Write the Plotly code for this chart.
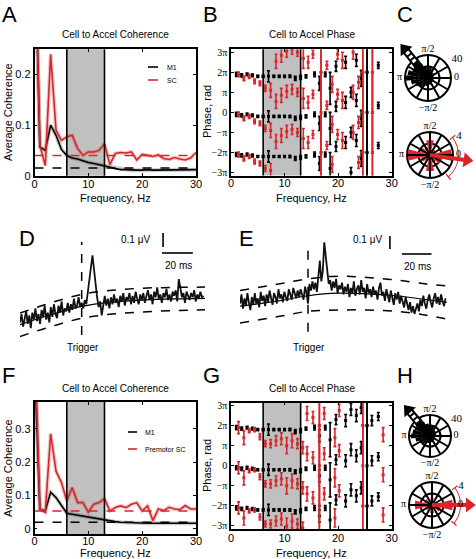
import plotly.graph_objects as go

W, H = 476, 559
def px(x): return x / W
def py(y): return 1 - y / H

RED = '#d8262a'
SANS = 'Liberation Sans'
SERIF = 'Liberation Serif'

# ---------------- data ----------------
freq = list(range(0, 31))
a_m1 = [0.5, 0.057, 0.05, 0.10, 0.08, 0.052, 0.04, 0.035, 0.033, 0.029, 0.026, 0.024, 0.022, 0.02, 0.017,
        0.014, 0.012, 0.012, 0.011, 0.011, 0.011, 0.012, 0.011, 0.011, 0.012, 0.011, 0.011, 0.012, 0.011, 0.011, 0.012]
a_sc = [0.5, 0.06, 0.02, 0.24, 0.09, 0.07, 0.077, 0.08, 0.054, 0.04, 0.047, 0.047, 0.05, 0.063, 0.022,
        0.044, 0.046, 0.045, 0.047, 0.031, 0.042, 0.04, 0.038, 0.041, 0.034, 0.032, 0.036, 0.033, 0.031, 0.035, 0.046]
a_sig_m1 = 0.015
a_sig_sc = 0.040

f_m1 = [0.5, 0.059, 0.054, 0.11, 0.094, 0.069, 0.047, 0.044, 0.041, 0.04, 0.035, 0.033, 0.03, 0.027, 0.025,
        0.022, 0.02, 0.019, 0.018, 0.018, 0.018, 0.017, 0.017, 0.018, 0.017, 0.017, 0.017, 0.018, 0.017, 0.017, 0.017]
f_sc = [0.6, 0.06, 0.05, 0.285, 0.173, 0.139, 0.084, 0.124, 0.079, 0.079, 0.05, 0.074, 0.079, 0.091, 0.054,
        0.064, 0.069, 0.064, 0.074, 0.079, 0.054, 0.069, 0.025, 0.06, 0.055, 0.065, 0.06, 0.058, 0.07, 0.06, 0.06]
f_sig_m1 = 0.02
f_sig_sc = 0.054

band = [6, 13]

# phase panels, values in units of pi
b_m1_f = [1, 2, 3, 4, 5, 6, 7, 8, 9, 10, 11, 12, 13, 14, 15.6, 16.5, 17.6, 18.5, 19.6, 21.4, 22.4, 23.4, 24.3, 25.4, 27.5]
b_m1_ph = [-0.1, -0.15, -0.1, -0.15, -0.2, -0.2, -0.2, -0.2, -0.2, -0.2, -0.2, -0.3, -0.25, -0.2,
           -0.1, -0.55, -0.1, -0.8, 0.3, 0.5, -1.0, 0.6, -0.3, 0.0, 0.35]
b_m1_err = [0.1, 0.08, 0.07, 0.07, 0.05, 0.05, 0.28, 0.05, 0.05, 0.05, 0.06, 0.1, 0.1, 0.08,
            0.12, 0.35, 0.12, 0.8, 0.25, 0.3, 0.25, 0.3, 0.4, 4.0, 0.15]
b_sc_f = [1.4, 2.4, 3.4, 4.4, 5.4, 6.4, 7.4, 8.4, 9.4, 10.4, 11.4, 12.4, 13.5, 14.4,
          15.3, 16.8, 17.9, 18.9, 19.9, 20.8, 22.8, 23.8, 24.6, 26.4]
b_sc_ph = [-0.1, -0.3, -0.2, -0.45, -0.55, -0.8, -0.9, 0.55, 0.85, 1.05, 1.15, 1.0, 0.7, 0.5,
           0.9, 0.0, 0.35, -0.6, 0.9, 0.6, 1.0, -0.5, 0.0, 0.0]
b_sc_err = [0.12, 0.12, 0.1, 0.12, 0.12, 0.15, 0.35, 0.35, 0.35, 0.3, 0.25, 0.2, 0.5, 0.3,
            0.2, 4.0, 0.2, 0.4, 0.25, 0.4, 0.35, 0.3, 4.0, 4.0]

g_m1_f = [1, 2, 3, 4, 5, 6, 7, 8, 9, 10, 11, 12, 13, 14, 15.6, 16.5, 17.6, 18.5, 19.6, 21.4, 22.4, 23.4, 24.3, 25.4, 26.3, 27.5]
g_m1_ph = [-0.1, -0.15, -0.1, -0.15, -0.2, -0.2, -0.2, -0.2, -0.2, -0.2, -0.2, -0.3, -0.25, -0.15,
           -0.1, -0.5, -0.1, -0.7, 0.3, 0.25, 0.8, 0.5, 0.9, 0.0, 0.25, 0.45]
g_m1_err = [0.1, 0.08, 0.07, 0.07, 0.05, 0.05, 0.28, 0.05, 0.05, 0.05, 0.06, 0.1, 0.1, 0.08,
            0.12, 0.3, 0.12, 0.85, 0.25, 0.3, 0.3, 0.3, 0.3, 4.0, 0.25, 0.2]
g_sc_f = [1.4, 2.4, 3.4, 4.4, 5.4, 6.4, 7.4, 8.4, 9.4, 10.4, 11.4, 12.4, 13.4,
          14.2, 15.3, 16.5, 17.4, 19.4, 20.2, 24.6, 28.4]
g_sc_ph = [-0.1, -0.6, -0.25, -0.2, -0.55, -0.9, -0.9, -0.75, -0.65, -1.0, -0.75, -0.9, -1.1,
           0.6, 0.4, 0.0, 0.6, -0.6, 0.75, 0.0, -0.45]
g_sc_err = [0.3, 0.35, 0.1, 0.1, 0.15, 0.15, 0.2, 0.25, 0.3, 0.4, 0.35, 0.25, 0.3,
            0.35, 0.3, 4.0, 0.3, 0.45, 0.3, 4.0, 0.35]
phase_copies = [-2, 0, 2]

# spike-triggered averages (microvolts)
d_time = list(range(-40, 80))
d_vals = [-0.16, -0.10, -0.19, -0.12, -0.08, -0.17, -0.11, -0.20, -0.09, -0.14,
          -0.06, -0.15, -0.10, -0.17, -0.07, -0.12, -0.04, -0.14, -0.09, -0.16,
          -0.05, -0.12, -0.03, -0.10, -0.13, -0.04, -0.09, -0.01, -0.11, -0.06,
          -0.08, -0.02, -0.09, -0.03, -0.07, 0.01, -0.06, -0.04, 0.02, -0.05,
          -0.02, -0.06, 0.0, -0.03, 0.06, 0.14, 0.25, 0.32, 0.22, 0.10,
          0.02, -0.05, -0.01, -0.11, -0.02, 0.03, -0.04, 0.01, -0.06, 0.02,
          -0.03, 0.04, -0.02, 0.01, -0.05, 0.03, -0.01, 0.05, -0.04, 0.02,
          0.0, 0.05, -0.03, 0.03, -0.02, 0.06, 0.01, -0.03, 0.04, 0.0,
          0.05, -0.02, 0.03, 0.07, 0.0, 0.04, -0.03, 0.06, 0.02, 0.09,
          0.01, 0.04, -0.02, 0.05, 0.02, 0.08, 0.0, 0.04, -0.01, 0.06,
          0.03, 0.07, -0.01, 0.15, 0.09, 0.02, 0.05, -0.02, 0.06, 0.03,
          0.00, 0.05, 0.02, 0.07, -0.01, 0.04, 0.01, 0.06, 0.02, 0.03]
d_band_t = [-40, -20, 0, 20, 40, 60, 80]
d_upper = [-0.093, -0.02, 0.04, 0.07, 0.085, 0.09, 0.093]
d_lower = [-0.26, -0.19, -0.13, -0.10, -0.085, -0.075, -0.07]
d_mean = [-0.175, -0.105, -0.045, -0.015, 0.0, 0.008, 0.012]

e_time = list(range(-46, 94))
e_vals = [-0.05, 0.02, -0.09, -0.01, -0.07, 0.03, -0.04, -0.10, 0.0, -0.06,
          0.03, -0.05, -0.01, -0.08, 0.04, -0.03, 0.01, -0.07, 0.02, -0.04,
          0.05, -0.02, -0.06, 0.03, 0.0, -0.05, 0.06, -0.01, 0.02, -0.04,
          0.04, 0.0, -0.03, 0.06, 0.01, -0.02, 0.07, 0.02, -0.01, 0.05,
          0.0, 0.06, 0.02, -0.02, 0.08, 0.03, -0.05, 0.10, 0.05, 0.12,
          0.06, 0.11, 0.04, 0.15, 0.28, 0.12, 0.20, 0.42, 0.30, 0.16,
          0.10, 0.13, 0.05, 0.12, 0.07, 0.14, 0.03, 0.09, 0.06, 0.11,
          0.02, 0.08, 0.04, 0.10, 0.0, 0.07, 0.03, 0.12, 0.01, 0.06,
          0.09, 0.02, 0.13, 0.04, 0.07, -0.01, 0.10, 0.03, 0.06, 0.0,
          0.08, 0.02, 0.05, -0.02, 0.07, 0.11, 0.01, 0.04, -0.03, 0.06,
          0.02, -0.04, 0.05, 0.0, -0.06, 0.03, -0.02, 0.04, -0.05, 0.01,
          -0.03, -0.08, 0.0, -0.06, -0.10, -0.04, -0.12, -0.07, -0.13, -0.09,
          -0.05, -0.11, -0.02, -0.07, 0.01, -0.05, -0.09, -0.02, 0.02, -0.04,
          -0.08, -0.01, 0.03, -0.05, 0.0, -0.06, 0.02, -0.03, -0.07, -0.01]
e_band_t = [-46, -20, 0, 20, 40, 60, 80, 94]
e_upper = [0.05, 0.10, 0.14, 0.16, 0.15, 0.13, 0.10, 0.085]
e_lower = [-0.2, -0.15, -0.11, -0.10, -0.10, -0.11, -0.14, -0.17]
e_mean = [-0.07, -0.03, 0.01, 0.03, 0.025, 0.01, -0.02, -0.04]

# rose histograms
rose_m1_theta = list(range(0, 360, 15))
c_m1_counts = [12, 10, 14, 12, 16, 18, 20, 22, 28, 32, 30, 36, 38, 30, 24, 20, 18, 14, 16, 12, 14, 10, 12, 10]
h_m1_counts = [10, 12, 12, 14, 16, 20, 22, 24, 30, 34, 32, 34, 36, 28, 22, 18, 16, 14, 14, 12, 12, 10, 12, 10]
rose_sc_theta = list(range(0, 360, 30))
c_sc_counts = [3.8, 1.2, 1.0, 2.6, 1.4, 1.8, 3.9, 1.6, 1.2, 2.8, 1.4, 2.2]
h_sc_counts = [3.6, 0.8, 0.6, 1.2, 0.6, 1.4, 3.0, 1.2, 0.6, 1.4, 0.8, 1.6]
c_m1_mean_dir = 129
h_m1_mean_dir = 130
c_sc_mean_dir = -8
h_sc_mean_dir = 0
c_sc_ci = [-50, 38]
h_sc_ci = [-40, 37]

# ---------------- figure ----------------
fig = go.Figure()

def coh_panel(xa, ya, m1, sc, sig_m1, sig_sc):
    for vals, col, halo in [(m1, 'black', 'rgba(0,0,0,0.2)'), (sc, RED, 'rgba(216,38,42,0.25)')]:
        fig.add_trace(go.Scatter(x=freq, y=vals, xaxis=xa, yaxis=ya, mode='lines',
                                 line=dict(color=halo, width=4), hoverinfo='skip'))
        fig.add_trace(go.Scatter(x=freq, y=vals, xaxis=xa, yaxis=ya, mode='lines',
                                 line=dict(color=col, width=1.6)))
    fig.add_trace(go.Scatter(x=[freq[0], freq[-1]], y=[sig_m1, sig_m1], xaxis=xa, yaxis=ya, mode='lines',
                             line=dict(color='black', width=1.5, dash='dash')))
    fig.add_trace(go.Scatter(x=[freq[0], freq[-1]], y=[sig_sc, sig_sc], xaxis=xa, yaxis=ya, mode='lines',
                             line=dict(color=RED, width=1.5, dash='dash')))

coh_panel('x', 'y', a_m1, a_sc, a_sig_m1, a_sig_sc)
coh_panel('x5', 'y5', f_m1, f_sc, f_sig_m1, f_sig_sc)

def phase_trace(xa, ya, f, ph, err, col):
    xs, ys, es = [], [], []
    for off in phase_copies:
        xs += f
        ys += [p + off for p in ph]
        es += err
    fig.add_trace(go.Scatter(x=xs, y=ys, xaxis=xa, yaxis=ya, mode='markers',
                             marker=dict(color=col, size=3, symbol='square'),
                             error_y=dict(type='data', array=es, color=col, thickness=1.6, width=1.5)))

phase_trace('x2', 'y2', b_m1_f, b_m1_ph, b_m1_err, 'black')
phase_trace('x2', 'y2', b_sc_f, b_sc_ph, b_sc_err, RED)
phase_trace('x6', 'y6', g_m1_f, g_m1_ph, g_m1_err, 'black')
phase_trace('x6', 'y6', g_sc_f, g_sc_ph, g_sc_err, RED)

def sta_panel(xa, ya, t, v, bt, up, lo, mn):
    fig.add_trace(go.Scatter(x=bt, y=mn, xaxis=xa, yaxis=ya, mode='lines', line=dict(color='black', width=1.2, shape='spline')))
    fig.add_trace(go.Scatter(x=t, y=v, xaxis=xa, yaxis=ya, mode='lines', line=dict(color='#111', width=1.8)))
    for b in (up, lo):
        fig.add_trace(go.Scatter(x=bt, y=b, xaxis=xa, yaxis=ya, mode='lines',
                                 line=dict(color='black', width=1.5, dash='dash', shape='spline')))

sta_panel('x3', 'y3', d_time, d_vals, d_band_t, d_upper, d_lower, d_mean)
sta_panel('x4', 'y4', e_time, e_vals, e_band_t, e_upper, e_lower, e_mean)

# ---- rose plots ----
def rose(sub, theta, counts, width, col, rc, mean_dir, solid, ci=None, rlabel=''):
    spokes_r, spokes_t = [], []
    for a in range(0, 360, 30):
        spokes_r += [0, rc, None]
        spokes_t += [a, a, None]
    fig.add_trace(go.Scatterpolar(r=spokes_r, theta=spokes_t, subplot=sub, mode='lines',
                                  line=dict(color='black', width=2)))
    fig.add_trace(go.Barpolar(r=counts, theta=theta, width=[width] * len(theta), subplot=sub,
                              marker=dict(color=col, line=dict(width=0))))
    if ci is not None:
        mid = (ci[0] + ci[1]) / 2
        fig.add_trace(go.Barpolar(r=[rc * 0.04], base=[rc * 1.22], theta=[mid], width=[ci[1] - ci[0]],
                                  subplot=sub, marker=dict(color=col, line=dict(width=0))))
        fig.add_trace(go.Barpolar(r=[rc * 0.3, rc * 0.3], base=[rc * 1.09, rc * 1.09], theta=ci, width=[2.5, 2.5],
                                  subplot=sub, marker=dict(color=col, line=dict(width=0))))
    acol = 'black' if not solid else col
    tipr = rc * 1.62
    if solid:
        fig.add_trace(go.Scatterpolar(r=[0, tipr], theta=[mean_dir, mean_dir], subplot=sub, mode='lines',
                                      line=dict(color=acol, width=4)))
    else:
        fig.add_trace(go.Scatterpolar(r=[0, tipr], theta=[mean_dir, mean_dir], subplot=sub, mode='lines',
                                      line=dict(color='black', width=8)))
        fig.add_trace(go.Scatterpolar(r=[rc * 0.9, tipr - rc * 0.02], theta=[mean_dir, mean_dir], subplot=sub, mode='lines',
                                      line=dict(color='white', width=4, dash='3px,2px')))
    fig.add_trace(go.Scatterpolar(r=[tipr], theta=[mean_dir], subplot=sub, mode='markers', cliponaxis=False,
                                  marker=dict(symbol='triangle-up', size=13, color=acol, angle=90 - mean_dir)))
    lab_r = rc * 1.24
    fig.add_trace(go.Scatterpolar(r=[lab_r, lab_r, lab_r, lab_r * 1.06], theta=[90, 0, 180, 270], subplot=sub,
                                  mode='text', text=['π/2', '0', 'π', '−π/2'], cliponaxis=False,
                                  textfont=dict(family=SERIF, size=10, color='black')))
    fig.add_trace(go.Scatterpolar(r=[rc * 1.5], theta=[33], subplot=sub, mode='text', text=[rlabel],
                                  cliponaxis=False, textfont=dict(family=SERIF, size=11, color='black')))

rose('polar', rose_m1_theta, c_m1_counts, 15, 'black', 40, c_m1_mean_dir, False, rlabel='40')
rose('polar2', rose_sc_theta, c_sc_counts, 30, RED, 4, c_sc_mean_dir, True, ci=c_sc_ci, rlabel='4')
rose('polar3', rose_m1_theta, h_m1_counts, 15, 'black', 40, h_m1_mean_dir, False, rlabel='40')
rose('polar4', rose_sc_theta, h_sc_counts, 30, RED, 4, h_sc_mean_dir, True, ci=h_sc_ci, rlabel='4')

def polar_layout(cx, cy, rpx, rc, rmax):
    half = rpx * rmax / rc
    return dict(domain=dict(x=[max(0, px(cx - half)), min(1, px(cx + half))], y=[py(cy + half), py(cy - half)]),
                bgcolor='rgba(0,0,0,0)',
                radialaxis=dict(range=[0, rmax], tickvals=[rc / 2, rc], showticklabels=False, showline=False,
                                ticks='', gridcolor='black', gridwidth=2, layer='below traces'),
                angularaxis=dict(showgrid=False, showline=False, showticklabels=False, ticks='', layer='below traces'))

# ---- axes ----
def cart(domain_x, domain_y, rng, tickvals, ticktext=None, font=SANS, size=11, anchor=None, standoff=0):
    return dict(domain=domain_x if domain_y is None else domain_y, range=rng, tickvals=tickvals, ticktext=ticktext,
                showline=True, linecolor='black', linewidth=1.5, mirror='ticks', ticks='inside', ticklen=3,
                tickcolor='black', tickwidth=1, showgrid=False, zeroline=False, anchor=anchor,
                ticklabelstandoff=standoff,
                tickfont=dict(family=font, size=size, color='black'), fixedrange=True)

phase_ticks = [-3, -2, -1, 0, 1, 2, 3]
phase_text = ['−3π', '−2π', '−π', '0', 'π', '2π', '3π']

hidden = dict(visible=False, fixedrange=True)

layout = dict(
    width=W, height=H, margin=dict(l=0, r=0, t=0, b=0), template='none', showlegend=False,
    paper_bgcolor='white', plot_bgcolor='rgba(0,0,0,0)',
    xaxis=cart([px(34.5), px(196)], None, [0, 30], [0, 10, 20, 30], anchor='y', standoff=-3),
    yaxis=cart(None, [py(175.7), py(49.3)], [0, 0.25], [0, 0.1, 0.2], ['0', '0.1', '0.2'], anchor='x'),
    xaxis2=cart([px(231), px(391.7)], None, [0, 30], [0, 10, 20, 30], anchor='y2', standoff=-3),
    yaxis2=cart(None, [py(175.5), py(49.3)], [-3.15, 3.15], phase_ticks, phase_text, font=SERIF, size=10, anchor='x2'),
    xaxis3=dict(domain=[px(20), px(205)], range=[-40, 80], anchor='y3', **hidden),
    yaxis3=dict(domain=[py(345), py(225)], range=[-0.321, 0.536], anchor='x3', **hidden),
    xaxis4=dict(domain=[px(240), px(447)], range=[-46, 94], anchor='y4', **hidden),
    yaxis4=dict(domain=[py(345), py(225)], range=[-0.369, 0.554], anchor='x4', **hidden),
    xaxis5=cart([px(34.5), px(196)], None, [0, 30], [0, 10, 20, 30], anchor='y5', standoff=-4),
    yaxis5=cart(None, [py(534), py(402)], [-0.015, 0.38], [0, 0.1, 0.2, 0.3], ['0', '0.1', '0.2', '0.3'], anchor='x5'),
    xaxis6=cart([px(231), px(391.7)], None, [0, 30], [0, 10, 20, 30], anchor='y6', standoff=-2),
    yaxis6=cart(None, [py(529), py(402.5)], [-3.15, 3.15], phase_ticks, phase_text, font=SERIF, size=10, anchor='x6'),
    polar=polar_layout(428, 78, 23, 40, 72),
    polar2=polar_layout(430, 155, 23, 4, 7.2),
    polar3=polar_layout(430, 436, 21, 40, 72),
    polar4=polar_layout(432, 505, 23, 4, 7.2),
)
fig.update_layout(**layout)

shapes = []
for xa, ya in [('x', 'y'), ('x2', 'y2'), ('x5', 'y5'), ('x6', 'y6')]:
    shapes.append(dict(type='rect', xref=xa, yref=ya + ' domain', x0=band[0], x1=band[1], y0=0, y1=1,
                       fillcolor='#c0c0c0', line=dict(width=0), layer='below'))
    for b in band:
        shapes.append(dict(type='line', xref=xa, yref=ya + ' domain', x0=b, x1=b, y0=0, y1=1,
                           line=dict(color='black', width=1.6), layer='above'))

# trigger lines and scale bars
shapes += [
    dict(type='line', xref='x3', yref='y3', x0=0, x1=0, y0=-0.25, y1=0.415, line=dict(color='black', width=1.5, dash='dash')),
    dict(type='line', xref='x4', yref='y4', x0=0, x1=0, y0=-0.267, y1=0.426, line=dict(color='black', width=1.5, dash='dash')),
    dict(type='line', xref='x3', yref='y3', x0=52.8, x1=52.8, y0=0.379, y1=0.479, line=dict(color='black', width=1.6)),
    dict(type='line', xref='x3', yref='y3', x0=52.1, x1=72.1, y0=0.336, y1=0.336, line=dict(color='black', width=1.6)),
    dict(type='line', xref='x4', yref='y4', x0=55.4, x1=55.4, y0=0.369, y1=0.469, line=dict(color='black', width=1.6)),
    dict(type='line', xref='x4', yref='y4', x0=63.5, x1=83.5, y0=0.331, y1=0.331, line=dict(color='black', width=1.6)),
]

# legends
def leg_line(x0, x1, y, col):
    return dict(type='line', xref='paper', yref='paper', x0=px(x0), x1=px(x1), y0=py(y), y1=py(y),
                line=dict(color=col, width=1.6))
shapes += [leg_line(148, 158, 67, 'black'), leg_line(148, 158, 80, RED),
           leg_line(128, 137, 432, 'black'), leg_line(128, 137, 449, RED)]
fig.update_layout(shapes=shapes)

ann = []
def text(x, y, s, size=11, xanchor='center', font=SANS, angle=0):
    ann.append(dict(x=px(x), y=py(y), xref='paper', yref='paper', text=s, showarrow=False, textangle=angle,
                    xanchor=xanchor, yanchor='middle', font=dict(family=font, size=size, color='black')))

for lab, x, y in [('A', 9, 15), ('B', 210, 15), ('C', 405, 15), ('D', 27, 238), ('E', 246, 238),
                  ('F', 8, 375), ('G', 211, 375), ('H', 405, 375)]:
    text(x, y, lab, size=22)

text(115, 35, 'Cell to Accel Coherence', size=10)
text(312, 35, 'Cell to Accel Phase', size=10)
text(115, 388, 'Cell to Accel Coherence', size=10)
text(312, 388, 'Cell to Accel Phase', size=10)
for y in (198, 553):
    text(115, y, 'Frequency, Hz', size=11)
    text(311, y, 'Frequency, Hz', size=11)
text(8, 112, 'Average Coherence', size=11, angle=-90)
text(8, 468, 'Average Coherence', size=11, angle=-90)
text(207, 112, 'Phase, rad', size=11, angle=-90)
text(207, 466, 'Phase, rad', size=11, angle=-90)
text(165, 67, 'M1', size=7, xanchor='left')
text(165, 80, 'SC', size=7, xanchor='left')
text(143, 432, 'M1', size=7, xanchor='left')
text(143, 449, 'Premotor SC', size=7, xanchor='left')
text(152, 240, '0.1 μV', size=10, xanchor='right')
text(178, 265, '20 ms', size=10)
text(384, 239, '0.1 μV', size=10, xanchor='right')
text(417, 266, '20 ms', size=10)
text(83, 347, 'Trigger', size=10)
text(309, 347, 'Trigger', size=10)
fig.update_layout(annotations=ann)

fig.write_html('out.html', config={'displayModeBar': False},
               post_script="document.body.style.margin='0';document.body.style.overflow='hidden';")
